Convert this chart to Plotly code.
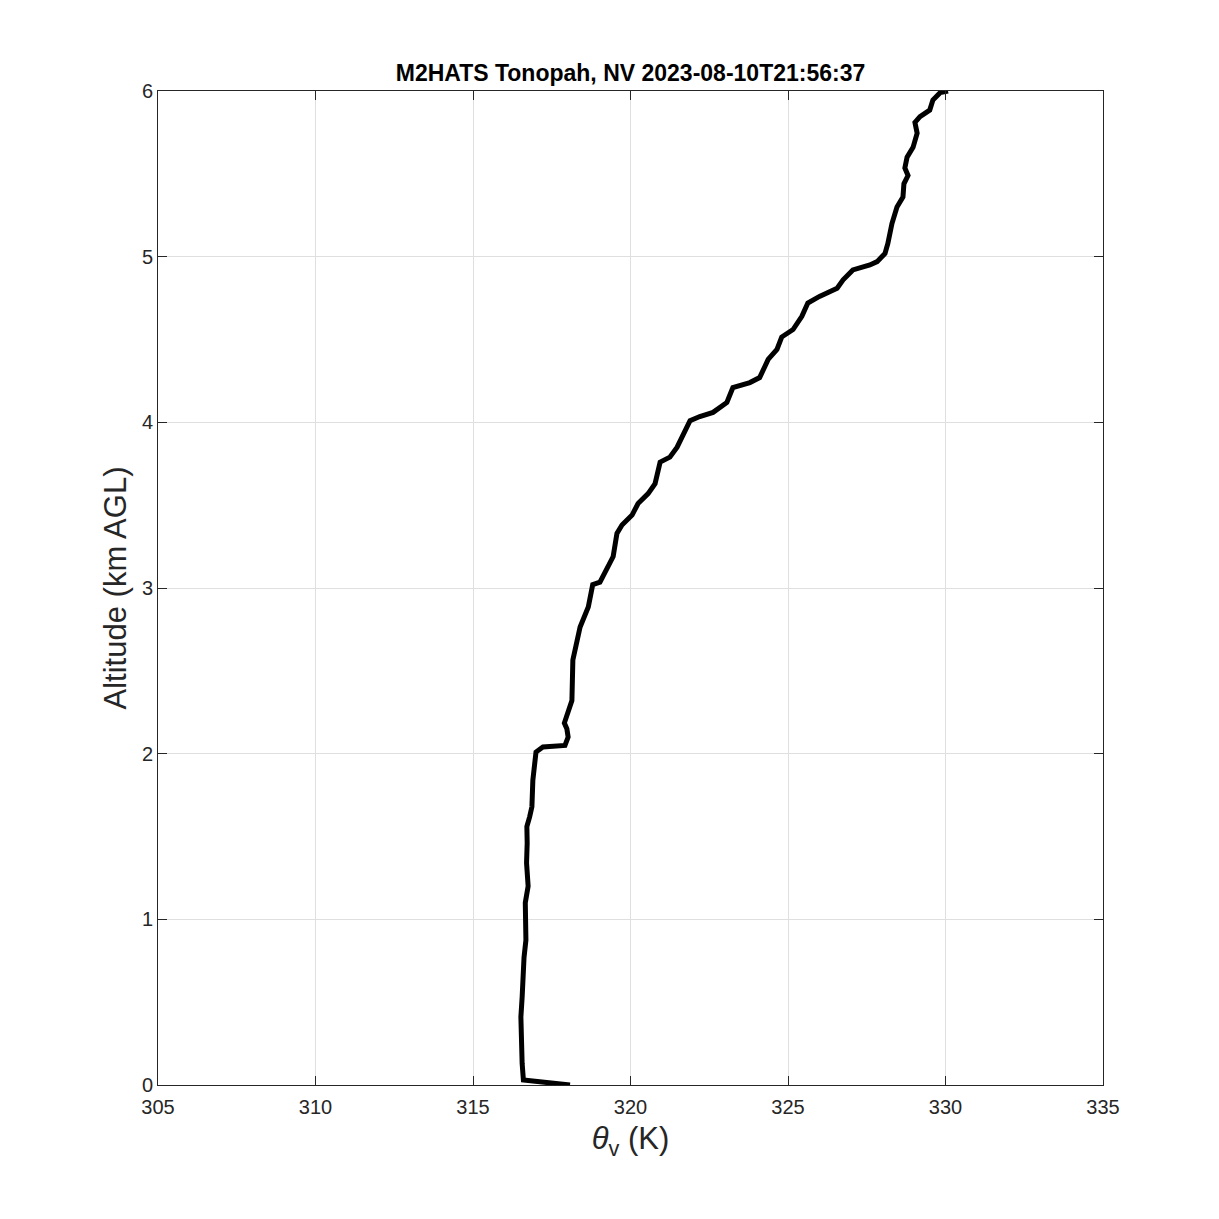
import plotly.graph_objects as go

# Virtual potential temperature profile (K) vs altitude (km AGL)
theta_v = [318.08, 317.3, 316.6, 316.56, 316.55, 316.52, 316.56, 316.59, 316.57, 316.62,
           316.68, 316.65, 316.66, 316.75, 316.7, 316.72, 316.71, 316.8, 316.87, 316.9,
           316.97, 317.0, 317.22, 317.6, 317.92, 318.02, 317.98, 317.9, 318.14, 318.17,
           318.4, 318.66, 318.8, 319.03, 319.29, 319.45, 319.57, 319.73, 320.05, 320.24,
           320.56, 320.78, 320.94, 321.25, 321.48, 321.63, 321.89, 322.2, 322.62, 323.06,
           323.25, 323.79, 324.1, 324.37, 324.65, 324.8, 325.16, 325.44, 325.63, 326.0,
           326.56, 326.75, 327.06, 327.6, 327.83, 328.08, 328.17, 328.3, 328.46, 328.65,
           328.68, 328.81, 328.71, 328.78, 328.97, 329.1, 329.03, 329.19, 329.5, 329.6,
           329.83, 330.08]
alt_km = [0.0, 0.015, 0.03, 0.13, 0.25, 0.41, 0.53, 0.65, 0.72, 0.77,
          0.875, 1.01, 1.1, 1.2, 1.34, 1.46, 1.56, 1.62, 1.68, 1.84,
          1.94, 2.01, 2.04, 2.045, 2.05, 2.1, 2.15, 2.185, 2.32, 2.565,
          2.765, 2.885, 3.02, 3.035, 3.13, 3.19, 3.33, 3.38, 3.44, 3.51,
          3.57, 3.63, 3.76, 3.79, 3.85, 3.91, 4.01, 4.035, 4.06, 4.12,
          4.21, 4.24, 4.27, 4.38, 4.44, 4.515, 4.56, 4.64, 4.72, 4.76,
          4.81, 4.86, 4.92, 4.95, 4.97, 5.02, 5.08, 5.2, 5.3, 5.36,
          5.44, 5.49, 5.535, 5.6, 5.66, 5.745, 5.81, 5.845, 5.885, 5.945,
          5.99, 6.0]

x_ticks = [305, 310, 315, 320, 325, 330, 335]
y_ticks = [0, 1, 2, 3, 4, 5, 6]

FONT = "Liberation Sans, Arial, sans-serif"

fig = go.Figure()
fig.add_trace(go.Scatter(x=theta_v, y=alt_km, mode="lines",
                         line=dict(color="black", width=5), showlegend=False))

axis_common = dict(
    showgrid=True, gridcolor="#dfdfdf", gridwidth=1,
    showline=True, linecolor="#262626", linewidth=1, mirror="allticks",
    ticks="inside", ticklen=9, tickcolor="#262626",
    tickfont=dict(family=FONT, size=20, color="#262626"),
    zeroline=False,
)

fig.update_layout(
    width=1219, height=1219,
    paper_bgcolor="white", plot_bgcolor="white",
    margin=dict(l=150, r=124, t=83, b=142),
    title=dict(text="<b>M2HATS Tonopah, NV 2023-08-10T21:56:37</b>",
               x=622.5 / 1219, xanchor="center",
               y=1 - 65 / 1219, yanchor="middle", yref="container",
               font=dict(family=FONT, size=23, color="black")),
    xaxis=dict(range=[305, 335], tickvals=x_ticks, ticktext=[str(v) for v in x_ticks],
               ticklabelstandoff=4,
               title=dict(text="<i>θ</i><sub>v</sub> (K)", standoff=10,
                          font=dict(family=FONT, size=31, color="#262626")),
               **axis_common),
    yaxis=dict(range=[0, 6], tickvals=y_ticks, ticktext=[str(v) for v in y_ticks],
               title=dict(text="Altitude (km AGL)", standoff=6,
                          font=dict(family=FONT, size=31, color="#262626")),
               **axis_common),
)

fig.write_html("out.html")
